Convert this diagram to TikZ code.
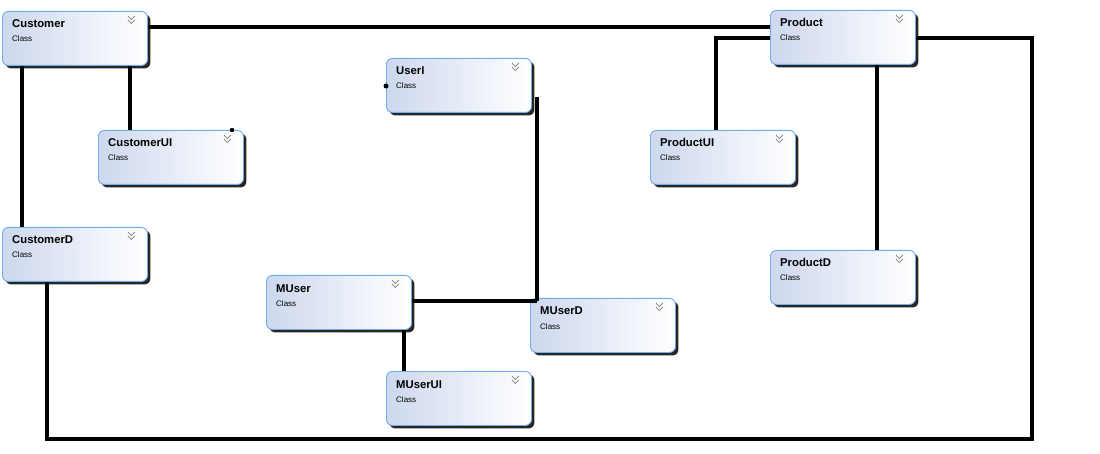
\documentclass[tikz,border=0pt]{standalone}
\usepackage{fontspec}
\setmainfont{Liberation Sans}
\usetikzlibrary{shadows,calc}
\definecolor{bordc}{HTML}{6FAEEE}
\definecolor{fillL}{HTML}{CDD8EE}
\definecolor{chev}{HTML}{808080}
\tikzset{
  clsbox/.style={draw=bordc, line width=0.9pt, rounded corners=6pt,
    left color=fillL, right color=white,
    minimum width=145pt, minimum height=54pt, anchor=north west, inner sep=0pt,
    drop shadow={shadow xshift=3pt, shadow yshift=-3pt, fill=black!85, opacity=1}},
  ttl/.style={anchor=base west, font=\bfseries\fontsize{11.3}{13}\selectfont, inner sep=0pt},
  sub/.style={anchor=base west, font=\fontsize{8}{9}\selectfont, inner sep=0pt},
  wire/.style={line width=4pt, black},
  chv/.style={chev, line width=0.8pt}
}
\newcommand{\mkcls}[4]{%
  \node[clsbox] (#1) at (#2,#3) {};
  \node[ttl] (#1t) at ($(#1.north west)+(10,17)$) {#4};
  \node[sub] (#1s) at ($(#1.north west)+(10,31)$) {Class};
  \draw[chv] ($(#1.north east)+(-20,5)$) -- ++(3.5,3.5) -- ++(3.5,-3.5);
  \draw[chv] ($(#1.north east)+(-20,9)$) -- ++(3.5,3.5) -- ++(3.5,-3.5);
}
\begin{document}
\begin{tikzpicture}[x=1pt,y=-1pt]
\useasboundingbox (0,0) rectangle (1100,454);
\fill[white] (0,0) rectangle (1100,454);
\mkcls{Customer}{2}{11}{Customer}
\mkcls{UserI}{386}{58}{UserI}
\mkcls{Product}{770}{10}{Product}
\mkcls{CustomerUI}{98}{130}{CustomerUI}
\mkcls{ProductUI}{650}{130}{ProductUI}
\mkcls{CustomerD}{2}{227}{CustomerD}
\mkcls{ProductD}{770}{250}{ProductD}
\mkcls{MUser}{266}{275}{MUser}
\mkcls{MUserD}{530}{298}{MUserD}
\mkcls{MUserUI}{386}{371}{MUserUI}
\coordinate (pr1) at (1032,38);
\coordinate (pr2) at (1032,439);
\coordinate (pr3) at (47,439);
\coordinate (uj) at (537,301);
\coordinate (ut) at (537,97);
\coordinate (pu) at (716,38);
% connectors
\draw[wire] (Customer.east |- 0,27) -- (Product.west |- 0,27);
\draw[wire] (Product.west |- pu) -- (pu) -- (ProductUI.north -| pu);
\draw[wire] (Product.south -| 877,0) -- (ProductD.north -| 877,0);
\draw[wire] (Product.east |- pr1) -- (pr1) -- (pr2) -- (pr3) -- (CustomerD.south -| pr3);
\draw[wire] (Customer.south -| 22,0) -- (CustomerD.north -| 22,0);
\draw[wire] (Customer.south -| 130,0) -- (CustomerUI.north -| 130,0);
\draw[wire] (MUser.east |- uj) -- (uj);
\draw[wire] (ut) -- (uj);
\draw[wire] (MUser.south -| 404,0) -- (MUserUI.north -| 404,0);
\fill (UserI.west |- 0,86) circle (2.5);
\fill (CustomerUI.north -| 232,0) circle (2.2);
\end{tikzpicture}
\end{document}
